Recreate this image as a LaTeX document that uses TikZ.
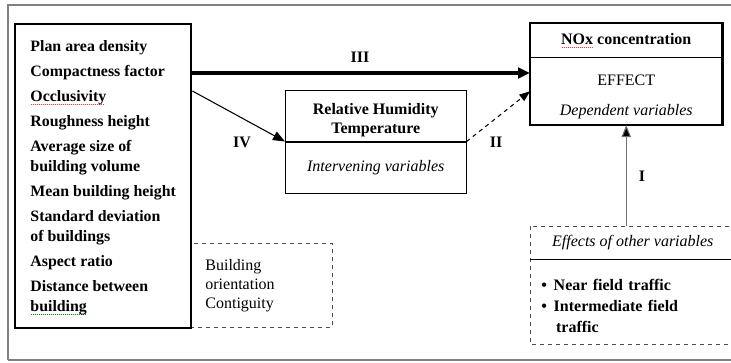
\documentclass[tikz,border=0pt]{standalone}
\usepackage{fontspec}
\setmainfont{Liberation Serif}
\usepackage{tikz}
\usetikzlibrary{positioning, arrows.meta}

% spell checker marks
\newlength{\spellwd}
\newcommand{\spellmark}[2]{\settowidth{\spellwd}{#2}%
  \rlap{\raisebox{-2.6pt}{\textcolor{#1}{\hbox to \spellwd{\leaders\hbox to 1.5pt{\hss\rule{0.8pt}{0.6pt}\hss}\hfill}}}}#2}

\begin{document}
\begin{tikzpicture}[x=0.75pt, y=-0.75pt,
        every node/.style={font=\fontsize{12}{15}\selectfont},
        thickbox/.style={draw, line width=1.8pt},
        dashbox/.style={draw=black!70, dashed, line width=0.6pt},
        lbl/.style={font=\bfseries\fontsize{12}{15}\selectfont}]

        % Page size and outer frame
        \useasboundingbox (0,0) rectangle (731,362);
        \clip (0,0) rectangle (731,362);
        \draw[gray, line width=0.8pt] (740,5) -- (8,5) -- (8,360);
        \draw[gray, line width=1.5pt] (8,360) -- (740,360);

        % Dashed box beside the urban form box
        \node[dashbox, anchor=north west, minimum width=106.5pt, minimum height=63pt,
              text width=84pt, inner xsep=11.25pt, align=left,
              font=\fontsize{12}{14.25}\selectfont] (orient) at (190,243)
              {Building\\orientation\\Contiguity};

        % Urban form parameters
        \node[thickbox, fill=white, anchor=north west, minimum width=132pt, minimum height=228pt,
              align=left, font=\bfseries\fontsize{11.9}{15}\selectfont] (urban) at (14,23)
              {\rule{0pt}{11pt}Plan area density\\[3.75pt]
               Compactness factor\\[3.75pt]
               \spellmark{red!80}{Occlusivity}\\[3.75pt]
               Roughness height\\[3.75pt]
               Average size of\\building volume\\[3.75pt]
               Mean building height\\[3.75pt]
               Standard deviation\\of buildings\\[3.75pt]
               Aspect ratio\\[3.75pt]
               Distance between\\\spellmark{green!60!black}{building}};

        % Intervening variables
        \node[draw, anchor=north west, minimum width=135.75pt, minimum height=38.25pt, align=center,
              font=\bfseries\fontsize{12}{14.25}\selectfont] (climate) at (285,90)
              {\rule{0pt}{14.5pt}Relative Humidity\\Temperature};
        \node[draw, below=0pt of climate, minimum width=135.75pt, minimum height=38.25pt,
              font=\itshape\fontsize{12}{15}\selectfont] (interv) {Intervening variables};

        % Dependent variable
        \node[anchor=north west, minimum width=144pt, minimum height=25.5pt,
              font=\bfseries\fontsize{12}{15}\selectfont] (nox) at (530,23)
              {\spellmark{red!80}{NOx} concentration};
        \node[below=0pt of nox, minimum width=144pt, minimum height=50.25pt, align=center]
              (effect) {\rule{0pt}{17pt}EFFECT\\[7.5pt]\textit{Dependent variables}};
        \draw[line width=1.8pt] (nox.north west) rectangle (effect.south east);
        \draw (nox.south west) -- (nox.south east);

        % Other variables
        \node[anchor=north west, minimum width=153.75pt, minimum height=24.75pt,
              font=\itshape\fontsize{12}{15}\selectfont] (others) at (530,226) {Effects of other variables};
        \node[below=0pt of others, minimum width=153.75pt, minimum height=63pt, text width=137pt,
              align=left, font=\bfseries\fontsize{12}{15.75}\selectfont] (traffic)
              {\rule{0pt}{14pt}\textbullet\hspace{5pt}Near field traffic\\
               \textbullet\hspace{5pt}Intermediate field\\
               \hspace{11pt}traffic};
        \draw[dashbox] (others.north west) rectangle (traffic.south east);
        \draw (others.south west) -- (others.south east);

        % Arrows
        \draw[line width=2.4pt, -{Triangle[length=9pt, width=8pt]}]
              ([yshift=-37.5pt]urban.north east) coordinate (s3) -- (s3 -| effect.west);
        \draw[line width=0.8pt, -{Triangle[length=9pt, width=7pt]}]
              ([yshift=-51pt]urban.north east) -- (climate.south west);
        \draw[line width=0.8pt, dashed, -{Triangle[length=8pt, width=6pt]}]
              (climate.south east) -- (effect.west);
        \draw[black!55, line width=0.8pt, -{Triangle[length=9pt, width=7pt, fill=black]}]
              (others.north -| effect.south) -- (effect.south);

        % Arrow labels
        \node[lbl] (l3) at (360,57) {III};
        \node[lbl] (l4) at (242,142) {IV};
        \node[lbl] (l2) at (496,142) {II};
        \node[lbl] (l1) at (642,176) {I};

    \end{tikzpicture}
\end{document}
